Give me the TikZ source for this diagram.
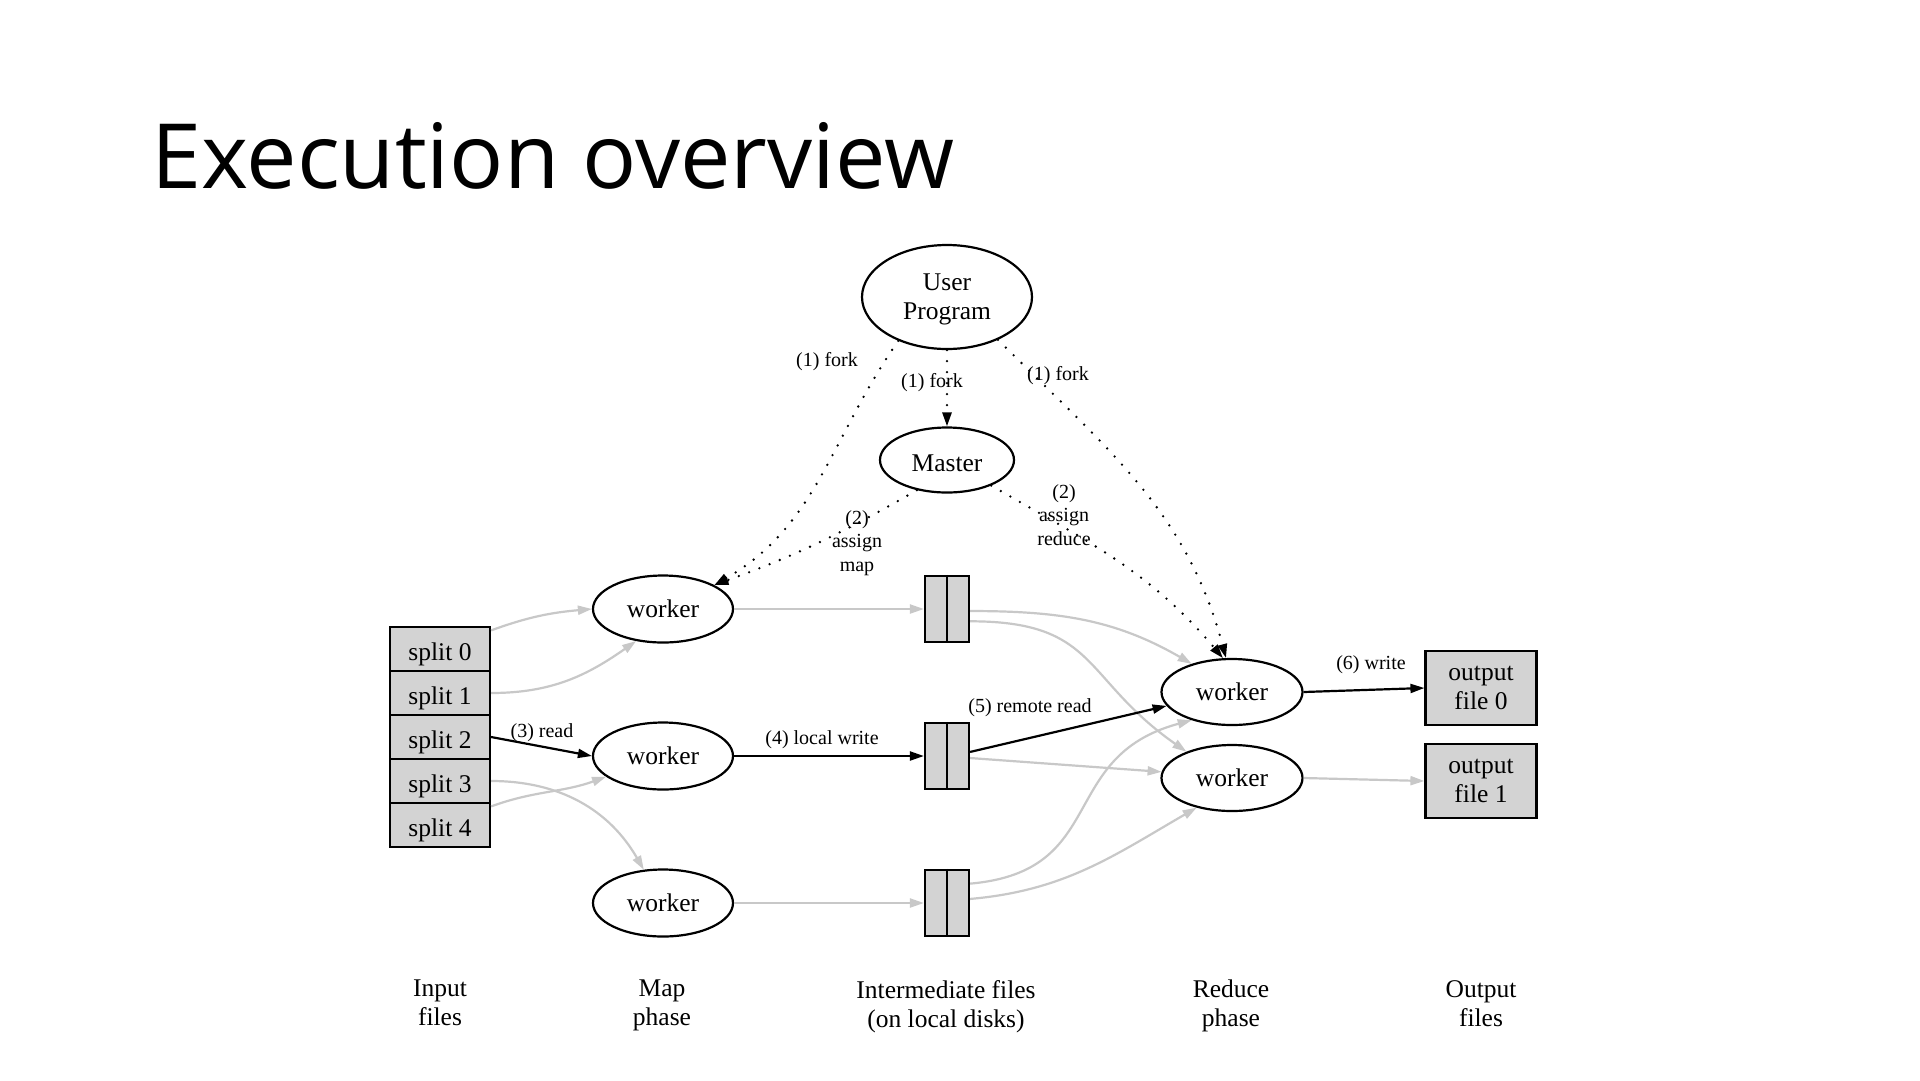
\documentclass[tikz,border=0pt]{standalone}
\usepackage{fontspec}
\setmainfont{Liberation Serif}
\newfontfamily\headfont{Open Sans}
\usetikzlibrary{arrows.meta,shapes.geometric}
\definecolor{boxgray}{RGB}{211,211,211}
\definecolor{linegray}{RGB}{200,200,200}

\begin{document}
\begin{tikzpicture}[x=1pt, y=-1pt, >={Triangle[length=14pt,width=9pt]}, node distance=44pt]
    \tikzstyle{proc}=[ellipse,draw,line width=2.2pt,inner sep=0pt,align=center,font=\fontsize{25.5}{29}\selectfont]
    \tikzstyle{filebox}=[rectangle,draw,line width=2.2pt,fill=boxgray,inner sep=0pt,align=center,font=\fontsize{25.5}{29}\selectfont]
    \tikzstyle{lbl}=[inner sep=0pt,align=center,font=\fontsize{20}{23.5}\selectfont]
    \tikzstyle{caption}=[anchor=north,inner sep=0pt,align=center,font=\fontsize{25.5}{29}\selectfont]
    \tikzstyle{faint}=[->,draw=linegray,line width=2.2pt]
    \tikzstyle{strong}=[->,draw=black,line width=2.2pt]
    \tikzstyle{dots}=[->,line width=2.6pt,line cap=round,dash pattern=on 0pt off 11pt]
    \useasboundingbox (0,0) rectangle (1920,1080);
    \fill[white] (0,0) rectangle (1920,1080);
    \node[anchor=base west,inner sep=0pt,font=\headfont\fontsize{90}{104}\selectfont] (title) at (151,188) {Execution overview};

    \node[proc,minimum width=170pt,minimum height=104pt,text depth=0pt] (user) at (947,297) {User\\Program};
    \node[proc,minimum width=134pt,minimum height=65pt,text height=23pt,text depth=0pt] (master) at (947,460) {Master};

    \node[filebox,minimum width=100pt,minimum height=44pt,text height=22pt,text depth=0pt] (split0) at (440,649) {split 0};
    \node[filebox,minimum width=100pt,minimum height=44pt,text height=22pt,text depth=0pt,below of=split0] (split1) {split 1};
    \node[filebox,minimum width=100pt,minimum height=44pt,text height=22pt,text depth=0pt,below of=split1] (split2) {split 2};
    \node[filebox,minimum width=100pt,minimum height=44pt,text height=22pt,text depth=0pt,below of=split2] (split3) {split 3};
    \node[filebox,minimum width=100pt,minimum height=44pt,text height=22pt,text depth=0pt,below of=split3] (split4) {split 4};

    \node[proc,minimum width=140pt,minimum height=67pt] (mapA) at (663,609) {worker};
    \node[proc,minimum width=140pt,minimum height=67pt,below of=mapA,node distance=147pt] (mapB) {worker};
    \node[proc,minimum width=140pt,minimum height=67pt,below of=mapB,node distance=147pt] (mapC) {worker};

    \node[filebox,minimum width=44pt,minimum height=66pt] (diskA) at (947,609) {};
    \node[filebox,minimum width=44pt,minimum height=66pt,below of=diskA,node distance=147pt] (diskB) {};
    \node[filebox,minimum width=44pt,minimum height=66pt,below of=diskB,node distance=147pt] (diskC) {};
    \foreach \d in {diskA,diskB,diskC}
        \draw[line width=2.2pt] (\d.north) -- (\d.south);

    \node[proc,minimum width=141pt,minimum height=66pt] (redA) at (1232,692) {worker};
    \node[proc,minimum width=141pt,minimum height=66pt] (redB) at (1232,778) {worker};

    \node[filebox,minimum width=111pt,minimum height=74pt,text depth=0pt] (outA) at (1481,688) {output\\file 0};
    \node[filebox,minimum width=111pt,minimum height=74pt,text depth=0pt] (outB) at (1481,781) {output\\file 1};

    \draw[dots] (user.south) -- (master.north);
    \draw[dots] (user.-138) to[out=-125,in=30] (mapA.25);
    \draw[dots] (user.-40) to[out=-45,in=105] (redA.100);
    \draw[dots] (master.-135) to[out=-150,in=20] (mapA.25);
    \draw[dots] (master.-30) to[out=-30,in=130] (redA.105);

    \draw[faint] (split0.20) to[out=20,in=185] (mapA.west);
    \draw[faint] (split1.east) to[out=0,in=-145] (mapA.-130);
    \draw[strong] (split2.east) -- (mapB.west);
    \draw[faint] (split3.east) to[out=0,in=120] (mapC.120);
    \draw[faint] (split4.20) to[out=20,in=200] (mapB.-160);

    \draw[faint] (mapA.east) -- (diskA.west);
    \draw[strong] (mapB.east) -- (diskB.west);
    \draw[faint] (mapC.east) -- (diskC.west);

    \draw[faint] (diskA.-5) to[out=0,in=150] (redA.145);
    \draw[faint] (diskA.-28) to[out=0,in=145,looseness=1.3] (redB.150);
    \draw[strong] (diskB.10) -- (redA.-168);
    \draw[faint] (diskB.-5) -- (redB.175);
    \draw[faint] (diskC.40) to[out=5,in=195,looseness=1.3] (redA.-145);
    \draw[faint] (diskC.10) to[out=5,in=210] (redB.-140);

    \draw[strong] (redA.east) -- (outA.west);
    \draw[faint] (redB.east) -- (outB.west);

    \node[lbl] (forkL) at (827,362) {(1) fork};
    \node[lbl] (forkM) at (932,383) {(1) fork};
    \node[lbl] (forkR) at (1058,376) {(1) fork};
    \node[lbl] (assignM) at (857,543) {(2)\\assign\\map};
    \node[lbl] (assignR) at (1064,515) {(2)\\assign\\reduce};
    \node[lbl] (read) at (542,733) {(3) read};
    \node[lbl] (lwrite) at (822,740) {(4) local write};
    \node[lbl] (rread) at (1030,708) {(5) remote read};
    \node[lbl] (owrite) at (1371,665) {(6) write};

    \node[caption] (capIn) at (440,980) {Input\\files};
    \node[caption] (capMap) at (662,980) {Map\\phase};
    \node[caption] (capMid) at (946,980) {Intermediate files\\(on local disks)};
    \node[caption] (capRed) at (1231,980) {Reduce\\phase};
    \node[caption] (capOut) at (1481,980) {Output\\files};
  \end{tikzpicture}
\end{document}
